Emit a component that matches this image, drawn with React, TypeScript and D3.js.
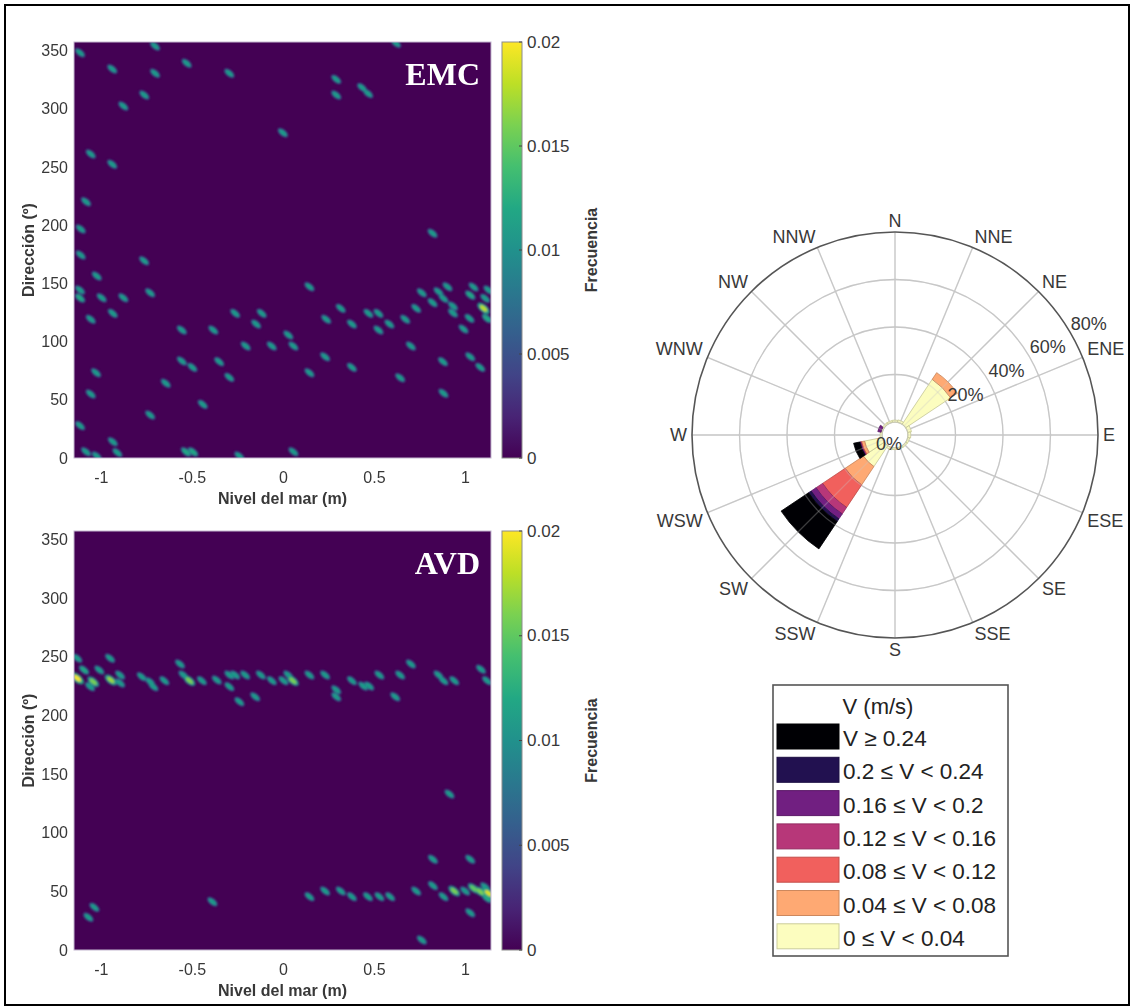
import React from 'react';
import * as d3 from 'd3';

// ---------- Heatmap data ----------
const xTicks = [-1, -0.5, 0, 0.5, 1];
const yTicks = [0, 50, 100, 150, 200, 250, 300, 350];
const cbTicks = [0, 0.005, 0.01, 0.015, 0.02];
const xDomain: [number, number] = [-1.15, 1.14];
const yDomain: [number, number] = [0, 357.5];

// [nivel del mar (m), dirección (º), frecuencia]
const emcPoints: [number, number, number][] = [
  [-1.117, 348.3, 0.011], [-0.705, 354, 0.011], [-0.94, 334.3, 0.011], [-0.531, 339.2, 0.011],
  [-0.705, 330.6, 0.011], [-0.297, 330.6, 0.011], [-0.764, 311.9, 0.011], [-0.879, 302.5, 0.011],
  [0.29, 325.4, 0.011], [0.29, 311.9, 0.011], [0.432, 318.3, 0.011], [0.465, 313.2, 0.011],
  [0.618, 356.4, 0.011], [-0.003, 279.5, 0.011], [-1.058, 261.2, 0.011], [-0.94, 252.4, 0.011],
  [-1.084, 220.2, 0.011], [-1.113, 196.8, 0.011], [0.819, 193.1, 0.011], [-1.113, 174.4, 0.011],
  [-0.765, 169.5, 0.011], [-1.025, 156.4, 0.011], [0.143, 147.2, 0.011], [-1.117, 144.4, 0.011],
  [-1.117, 137.5, 0.012], [-0.998, 137.7, 0.011], [-0.879, 137.7, 0.011], [-0.732, 142.0, 0.011],
  [-0.937, 124.3, 0.011], [-1.058, 119.2, 0.011], [-0.558, 110, 0.011], [-0.385, 110, 0.011],
  [-0.265, 124.3, 0.011], [-0.119, 124.3, 0.011], [-0.15, 115.1, 0.011], [0.027, 105.7, 0.011],
  [0.055, 96.2, 0.011], [-0.064, 96.2, 0.011], [-0.207, 96.2, 0.011], [-0.558, 83.4, 0.011],
  [-0.5, 77.9, 0.011], [-0.353, 82.8, 0.011], [-0.297, 69.3, 0.011], [-1.029, 73.3, 0.011],
  [-1.058, 55, 0.011], [-0.646, 64.2, 0.011], [-0.443, 46.1, 0.011], [-0.732, 37, 0.011],
  [-1.117, 27.8, 0.011], [-0.937, 14, 0.011], [-0.912, 4.6, 0.011], [-1.084, 5.4, 0.011],
  [-1.025, 1.7, 0.011], [-0.535, 5.2, 0.012], [-0.496, 5.2, 0.012], [-0.242, 1.7, 0.011],
  [0.055, 5.4, 0.011], [0.315, 128.6, 0.011], [0.235, 119.2, 0.011], [0.376, 115.1, 0.011],
  [0.467, 124.3, 0.011], [0.522, 124.3, 0.011], [0.522, 110, 0.011], [0.582, 115.1, 0.011],
  [0.669, 119.2, 0.011], [0.7, 96.2, 0.011], [0.229, 87, 0.011], [0.376, 77.9, 0.011],
  [0.143, 73.3, 0.011], [0.641, 69, 0.011], [0.729, 128.6, 0.011], [0.76, 142, 0.011],
  [0.819, 133.5, 0.011], [0.852, 142.9, 0.011], [0.879, 137.2, 0.011], [0.901, 147.2, 0.011],
  [0.931, 130.6, 0.011], [0.931, 124.6, 0.011], [0.989, 110.9, 0.011], [1.022, 120, 0.011],
  [1.026, 140, 0.012], [1.044, 147, 0.011], [1.108, 137.2, 0.011], [1.099, 128.6, 0.018],
  [1.126, 144.4, 0.011], [1.118, 120, 0.012], [1.026, 87, 0.011], [1.081, 77.9, 0.011],
  [0.876, 82.8, 0.011], [0.879, 55.6, 0.011],
];

const avdPoints: [number, number, number][] = [
  [-1.132, 248.9, 0.011], [-0.952, 248.9, 0.011], [-0.568, 244, 0.011], [-1.132, 231.8, 0.02],
  [-1.095, 238.9, 0.012], [-1.044, 228.9, 0.016], [-1.062, 224.7, 0.011], [-1.011, 238.9, 0.011],
  [-0.948, 230.4, 0.017], [-0.897, 234.6, 0.011], [-0.897, 227.8, 0.011], [-0.778, 233.2, 0.011],
  [-0.732, 228.9, 0.011], [-0.714, 224.7, 0.011], [-0.654, 229.8, 0.011], [-0.549, 234.6, 0.011],
  [-0.516, 229.8, 0.016], [-0.448, 229.8, 0.011], [-0.366, 230.4, 0.011], [-0.297, 224.7, 0.011],
  [-0.297, 234.6, 0.011], [-0.265, 234.6, 0.011], [-0.21, 234.6, 0.011], [-0.242, 211.9, 0.011],
  [-0.155, 216.1, 0.011], [-0.124, 234.6, 0.011], [-0.064, 229.8, 0.011], [0, 229.8, 0.011],
  [0.027, 234.6, 0.011], [0.052, 229.8, 0.016], [0.143, 234.6, 0.011], [0.229, 234.6, 0.011],
  [0.29, 222, 0.011], [0.29, 216, 0.011], [0.376, 229.8, 0.011], [0.438, 225.3, 0.011],
  [0.471, 225.3, 0.011], [0.527, 234.6, 0.011], [0.641, 234.6, 0.011], [0.614, 216.1, 0.011],
  [0.7, 244, 0.011], [0.852, 234.6, 0.011], [0.879, 229.8, 0.011], [0.938, 229.8, 0.011],
  [1.085, 239.5, 0.011], [1.118, 229.8, 0.011], [0.912, 133.1, 0.011], [-1.071, 27.9, 0.011],
  [-1.038, 36.4, 0.011], [-0.39, 41.2, 0.011], [0.143, 45.5, 0.011], [0.229, 50.3, 0.011],
  [0.315, 50.3, 0.011], [0.376, 45.5, 0.011], [0.464, 45.5, 0.011], [0.527, 45.5, 0.011],
  [0.586, 45.5, 0.011], [0.729, 50.3, 0.011], [0.76, 8.5, 0.011], [0.821, 77.4, 0.011],
  [0.821, 54.9, 0.011], [0.879, 45.5, 0.011], [0.938, 50.3, 0.016], [0.998, 50.3, 0.011],
  [1.026, 77.4, 0.011], [1.026, 31.8, 0.011], [1.044, 52.6, 0.015], [1.081, 49.7, 0.016],
  [1.126, 48.4, 0.019], [1.108, 54, 0.011], [1.118, 44.1, 0.012],
];

// ---------- Wind rose data ----------
const roseDirections = ['N', 'NNE', 'NE', 'ENE', 'E', 'ESE', 'SE', 'SSE', 'S', 'SSW', 'SW', 'WSW', 'W', 'WNW', 'NW', 'NNW'];
const roseRingTicks = [20, 40, 60, 80];
const roseBinLabels = ['0 ≤ V < 0.04', '0.04 ≤ V < 0.08', '0.08 ≤ V < 0.12', '0.12 ≤ V < 0.16', '0.16 ≤ V < 0.2', '0.2 ≤ V < 0.24', 'V ≥ 0.24'];
const roseBinColors = ['#fcfdbf', '#fea973', '#f1605d', '#b73779', '#711f81', '#221150', '#000004'];
// frequency (%) per direction, bins from low to high speed
const roseFreq: number[][] = [
  [0.8, 0, 0, 0, 0, 0, 0],
  [1.0, 0, 0, 0, 0, 0, 0],
  [22.7, 3.4, 0, 0, 0, 0, 0],
  [1.6, 0, 0, 0, 0, 0, 0],
  [1.2, 0, 0, 0, 0, 0, 0],
  [0.8, 0, 0, 0, 0, 0, 0],
  [0.7, 0, 0, 0, 0, 0, 0],
  [0.7, 0, 0, 0, 0, 0, 0],
  [0.7, 0, 0, 0, 0, 0, 0],
  [0.9, 0, 0, 0, 0, 0, 0],
  [10.5, 9.3, 11.4, 3.3, 2.5, 1.3, 13.9],
  [7.6, 1.3, 0.3, 0.2, 0.2, 0.2, 2.5],
  [0.8, 0, 0, 0, 0, 0, 0],
  [0.5, 0, 0, 0, 1.4, 0, 0],
  [0.7, 0, 0, 0, 0, 0, 0],
  [0.7, 0, 0, 0, 0, 0, 0],
];

const FONT = "'Liberation Sans', Arial, Helvetica, sans-serif";
const TXT = '#383838';

function Heatmap({ points, top, bottom, label, id }: { points: [number, number, number][]; top: number; bottom: number; label: string; id: string }) {
  const left = 74, right = 491;
  const x = d3.scaleLinear().domain(xDomain).range([left, right]);
  const y = d3.scaleLinear().domain(yDomain).range([bottom, top]);
  const c = d3.scaleLinear().domain([0, 0.02]).range([0, 1]).clamp(true);
  const col = (v: number) => d3.interpolateViridis(c(v));
  const sorted = [...points].sort((a, b) => a[2] - b[2]);
  const cbX = 502, cbW = 20;
  const cy = d3.scaleLinear().domain([0, 0.02]).range([bottom, top]);
  const midY = (top + bottom) / 2;
  const stops = d3.range(0, 1.0001, 0.1);
  return (
    <g>
      <defs>
        <clipPath id={`clip-${id}`}>
          <rect x={left} y={top} width={right - left} height={bottom - top} />
        </clipPath>
        <filter id={`blur-${id}`} x="-5%" y="-5%" width="110%" height="110%">
          <feGaussianBlur stdDeviation={1.0} />
        </filter>
        <linearGradient id={`grad-${id}`} x1="0" y1="1" x2="0" y2="0">
          {stops.map((s) => (
            <stop key={s} offset={s} stopColor={d3.interpolateViridis(s)} />
          ))}
        </linearGradient>
      </defs>
      <rect x={left} y={top} width={right - left} height={bottom - top} fill={d3.interpolateViridis(0)} />
      <g clipPath={`url(#clip-${id})`}>
        <g filter={`url(#blur-${id})`}>
          {sorted.map((p, i) => {
            const t = c(p[2]);
            return (
              <g key={'o' + i} transform={`translate(${x(p[0])},${y(p[1])}) rotate(40)`}>
                <ellipse rx={6.2 + (t - 0.55) * 4} ry={3.2 + (t - 0.55) * 2} fill={d3.interpolateViridis(t * 0.6)} />
              </g>
            );
          })}
          {sorted.map((p, i) => (
            <g key={'i' + i} transform={`translate(${x(p[0])},${y(p[1])}) rotate(40)`}>
              <ellipse rx={4.3} ry={2.0} fill={col(p[2])} />
            </g>
          ))}
        </g>
      </g>
      <rect x={left} y={top} width={right - left} height={bottom - top} fill="none" stroke="#c4b8d0" strokeWidth={1} />
      <text x={right - 11} y={top + 43} textAnchor="end" fill="#ffffff" fontFamily="'Liberation Serif', 'Times New Roman', serif" fontWeight="bold" fontSize={32}>
        {label}
      </text>
      {yTicks.map((t) => (
        <text key={t} x={68} y={y(t)} textAnchor="end" dominantBaseline="central" fontFamily={FONT} fontSize={16} fill={TXT}>
          {t}
        </text>
      ))}
      {xTicks.map((t) => (
        <text key={t} x={x(t)} y={bottom + 25} textAnchor="middle" fontFamily={FONT} fontSize={16} fill={TXT}>
          {t}
        </text>
      ))}
      <text x={(left + right) / 2} y={bottom + 46} textAnchor="middle" fontFamily={FONT} fontSize={16} fontWeight="bold" fill={TXT}>
        Nivel del mar (m)
      </text>
      <text transform={`translate(28,${midY}) rotate(-90)`} textAnchor="middle" dominantBaseline="central" fontFamily={FONT} fontSize={16} fontWeight="bold" fill={TXT}>
        Dirección (º)
      </text>
      {/* colorbar */}
      <rect x={cbX} y={top} width={cbW} height={bottom - top} fill={`url(#grad-${id})`} stroke="#8c8c8c" strokeWidth={1} />
      {cbTicks.map((t) => (
        <g key={t}>
          <line x1={cbX + cbW - 3} x2={cbX + cbW} y1={cy(t)} y2={cy(t)} stroke="#444" strokeWidth={1} />
          <text x={527} y={cy(t)} dominantBaseline="central" fontFamily={FONT} fontSize={17} fill={TXT}>
            {t}
          </text>
        </g>
      ))}
      <text transform={`translate(591,${midY}) rotate(-90)`} textAnchor="middle" dominantBaseline="central" fontFamily={FONT} fontSize={16} fontWeight="bold" fill={TXT}>
        Frecuencia
      </text>
    </g>
  );
}

function WindRose() {
  const cx = 895, cy = 435;
  const r = d3.scaleLinear().domain([0, 80]).range([13, 203]);
  const arc = d3.arc<any>();
  const step = 360 / roseDirections.length;
  const rad = (deg: number) => (deg * Math.PI) / 180;
  const segments: { d: string; fill: string; key: string }[] = [];
  roseFreq.forEach((bins, i) => {
    let cum = 0;
    bins.forEach((v, b) => {
      if (v <= 0) return;
      const d = arc({
        innerRadius: r(cum),
        outerRadius: r(cum + v),
        startAngle: rad(i * step - step / 2),
        endAngle: rad(i * step + step / 2),
      }) as string;
      cum += v;
      segments.push({ d, fill: roseBinColors[b], key: `${i}-${b}` });
    });
  });
  const grid = (opacity: number) => (
    <g strokeOpacity={opacity} fill="none">
      {roseDirections.map((_, i) => {
        const a = rad(i * step);
        return (
          <line key={i} x1={r(0) * Math.sin(a)} y1={-r(0) * Math.cos(a)} x2={r(80) * Math.sin(a)} y2={-r(80) * Math.cos(a)} stroke="#c8c8c8" strokeWidth={1.3} />
        );
      })}
      {[0, 20, 40, 60].map((p) => (
        <circle key={p} r={r(p)} stroke="#c8c8c8" strokeWidth={1.3} />
      ))}
    </g>
  );
  return (
    <g transform={`translate(${cx},${cy})`}>
      {grid(1)}
      {segments.map((s) => (
        <path key={s.key} d={s.d} fill={s.fill} stroke={d3.color(s.fill)!.darker(0.7).formatHex()} strokeWidth={0.8} />
      ))}
      {grid(0.3)}
      <circle r={r(80)} fill="none" stroke="#555" strokeWidth={1.6} />
      {roseDirections.map((name, i) => {
        const a = rad(i * step);
        const s = Math.sin(a), c = Math.cos(a);
        const R = 208;
        const anchor = s > 0.1 ? 'start' : s < -0.1 ? 'end' : 'middle';
        const base = c > 0.1 ? 'auto' : c < -0.1 ? 'hanging' : 'central';
        return (
          <text key={name} x={R * s} y={-R * c} textAnchor={anchor} dominantBaseline={base} fontFamily={FONT} fontSize={18} fill={TXT}>
            {name}
          </text>
        );
      })}
      {roseRingTicks.map((p) => {
        const a = rad(60);
        return (
          <text key={p} x={r(p) * Math.sin(a)} y={-r(p) * Math.cos(a) - 4} fontFamily={FONT} fontSize={18} fill={TXT}>
            {p}%
          </text>
        );
      })}
      <text x={-6} y={15} textAnchor="middle" fontFamily={FONT} fontSize={18} fill={TXT}>
        0%
      </text>
    </g>
  );
}

function Legend() {
  const x0 = 773, y0 = 685, w = 235, h = 271;
  const items = roseBinLabels.map((l, i) => ({ label: l, color: roseBinColors[i] })).reverse();
  return (
    <g>
      <rect x={x0} y={y0} width={w} height={h} fill="#fff" stroke="#555" strokeWidth={1.6} />
      <text x={878} y={714} textAnchor="middle" fontFamily={FONT} fontSize={22} fill="#222">
        V (m/s)
      </text>
      {items.map((it, i) => {
        const yy = 724 + i * 33.3;
        return (
          <g key={it.label}>
            <rect x={777} y={yy} width={62} height={25} fill={it.color} stroke={d3.color(it.color)!.darker(0.6).formatHex()} strokeWidth={1} />
            <text x={843} y={yy + 22} fontFamily={FONT} fontSize={22.5} fill="#222">
              {it.label}
            </text>
          </g>
        );
      })}
    </g>
  );
}

export default function App() {
  return (
    <svg width={1134} height={1007} viewBox="0 0 1134 1007" style={{ position: 'absolute', left: 0, top: 0, background: '#fff' }}>
      <rect x={0} y={0} width={1134} height={1007} fill="#fff" />
      <rect x={5} y={5} width={1124} height={1000} fill="none" stroke="#000" strokeWidth={2} />
      <Heatmap points={emcPoints} top={42} bottom={458} label="EMC" id="emc" />
      <Heatmap points={avdPoints} top={531} bottom={950} label="AVD" id="avd" />
      <WindRose />
      <Legend />
    </svg>
  );
}
